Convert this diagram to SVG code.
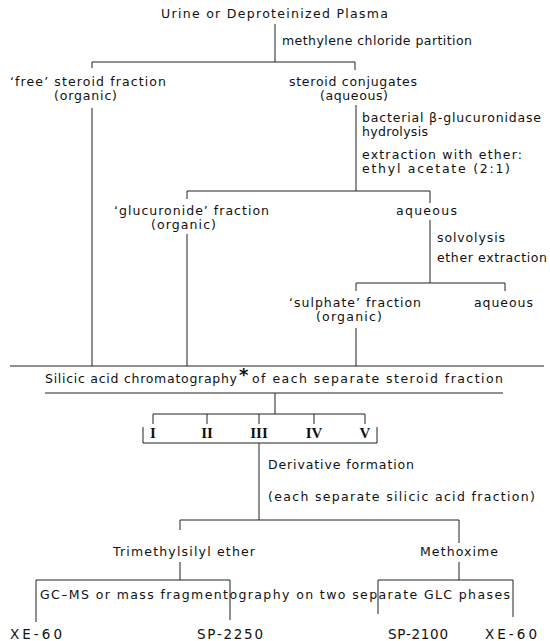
<svg xmlns="http://www.w3.org/2000/svg" width="550" height="641" viewBox="0 0 550 641">
<style>
text{font-family:"DejaVu Sans","Liberation Sans",sans-serif;font-size:12.5px;fill:#111;}
.big{font-size:13.5px;}
.rn{font-family:"Liberation Serif",serif;font-size:15px;font-weight:bold;text-anchor:middle;}
.ast{font-size:18px;font-weight:bold;}
.c line, .c polyline{stroke:#222;stroke-width:1;fill:none;}
</style>
<rect width="550" height="641" fill="#fff"/>
<g class="c" id="connectors">
<line x1="275" y1="24" x2="275" y2="62"/>
<polyline points="92,68 92,62 355,62 355,70"/>
<line x1="92" y1="108" x2="92" y2="366"/>
<line x1="356" y1="105" x2="356" y2="191"/>
<polyline points="187,199 187,191 430,191 430,203"/>
<line x1="187" y1="234" x2="187" y2="366"/>
<line x1="430" y1="220" x2="430" y2="283"/>
<polyline points="356,291 356,283 505,283 505,291"/>
<line x1="356" y1="328" x2="356" y2="366"/>
<line x1="10" y1="366" x2="544" y2="366"/>
<line x1="45" y1="393" x2="503" y2="393"/>
<line x1="275" y1="393" x2="275" y2="414"/>
<line x1="153" y1="414" x2="365" y2="414"/>
<line x1="153" y1="414" x2="153" y2="424"/>
<line x1="207" y1="414" x2="207" y2="424"/>
<line x1="259" y1="414" x2="259" y2="424"/>
<line x1="314" y1="414" x2="314" y2="424"/>
<line x1="365" y1="414" x2="365" y2="424"/>
<polyline points="143,427 143,443 377,443 377,427"/>
<line x1="259" y1="443" x2="259" y2="520"/>
<polyline points="180,530 180,520 459,520 459,543"/>
<line x1="180" y1="562" x2="180" y2="580"/>
<polyline points="36,622 36,580 230,580 230,620"/>
<line x1="459" y1="562" x2="459" y2="580"/>
<polyline points="378,614 378,580 513,580 513,617"/>
</g>
<g id="n-source"><text x="161" y="18" textLength="227" lengthAdjust="spacing">Urine or Deproteinized Plasma</text></g>
<g id="e-methylene"><text x="282" y="45" textLength="190" lengthAdjust="spacing">methylene chloride partition</text></g>
<g id="n-free"><text x="10" y="86" textLength="156" lengthAdjust="spacing">‘free’ steroid fraction</text><text x="54" y="100" textLength="63" lengthAdjust="spacing">(organic)</text></g>
<g id="n-conjugates"><text x="289" y="86" textLength="128" lengthAdjust="spacing">steroid conjugates</text><text x="320" y="100" textLength="68" lengthAdjust="spacing">(aqueous)</text></g>
<g id="e-hydrolysis"><text x="362" y="122" textLength="179" lengthAdjust="spacing">bacterial β-glucuronidase</text><text x="362" y="136" textLength="66" lengthAdjust="spacing">hydrolysis</text></g>
<g id="e-extraction"><text x="362" y="159" textLength="160" lengthAdjust="spacing">extraction with ether:</text><text x="362" y="173" textLength="148" lengthAdjust="spacing">ethyl acetate (2:1)</text></g>
<g id="n-glucuronide"><text x="114" y="215" textLength="155" lengthAdjust="spacing">‘glucuronide’ fraction</text><text x="151" y="229" textLength="65" lengthAdjust="spacing">(organic)</text></g>
<g id="n-aqueous1"><text x="396" y="215" textLength="61" lengthAdjust="spacing">aqueous</text></g>
<g id="e-solvolysis"><text x="437" y="242" textLength="68" lengthAdjust="spacing">solvolysis</text><text x="437" y="262" textLength="110" lengthAdjust="spacing">ether extraction</text></g>
<g id="n-sulphate"><text x="289" y="307" textLength="132" lengthAdjust="spacing">‘sulphate’ fraction</text><text x="316" y="321" textLength="66" lengthAdjust="spacing">(organic)</text></g>
<g id="n-aqueous2"><text x="474" y="307" textLength="59" lengthAdjust="spacing">aqueous</text></g>
<g id="n-silicic"><text x="45" y="383" textLength="192" lengthAdjust="spacing">Silicic acid chromatography</text><text class="ast" x="239" y="381">*</text><text x="252" y="383" textLength="251" lengthAdjust="spacing">of each separate steroid fraction</text></g>
<g id="n-fractions"><text class="rn" x="153" y="438">I</text><text class="rn" x="207" y="438">II</text><text class="rn" x="259" y="438">III</text><text class="rn" x="314" y="438">IV</text><text class="rn" x="365" y="438">V</text></g>
<g id="e-derivative"><text x="268" y="469" textLength="146" lengthAdjust="spacing">Derivative formation</text><text x="268" y="501" textLength="267" lengthAdjust="spacing">(each separate silicic acid fraction)</text></g>
<g id="n-tms"><text x="113" y="556" textLength="142" lengthAdjust="spacing">Trimethylsilyl ether</text></g>
<g id="n-methoxime"><text x="420" y="556" textLength="78" lengthAdjust="spacing">Methoxime</text></g>
<g id="n-gcms"><text x="40" y="599" textLength="470" lengthAdjust="spacing">GC–MS or mass fragmentography on two separate GLC phases</text></g>
<g id="n-xe60a"><text class="big" x="10" y="639" textLength="52" lengthAdjust="spacing">XE-60</text></g>
<g id="n-sp2250"><text class="big" x="197" y="639" textLength="66" lengthAdjust="spacing">SP-2250</text></g>
<g id="n-sp2100"><text class="big" x="388" y="639" textLength="60" lengthAdjust="spacing">SP-2100</text></g>
<g id="n-xe60b"><text class="big" x="485" y="639" textLength="52" lengthAdjust="spacing">XE-60</text></g>
</svg>
